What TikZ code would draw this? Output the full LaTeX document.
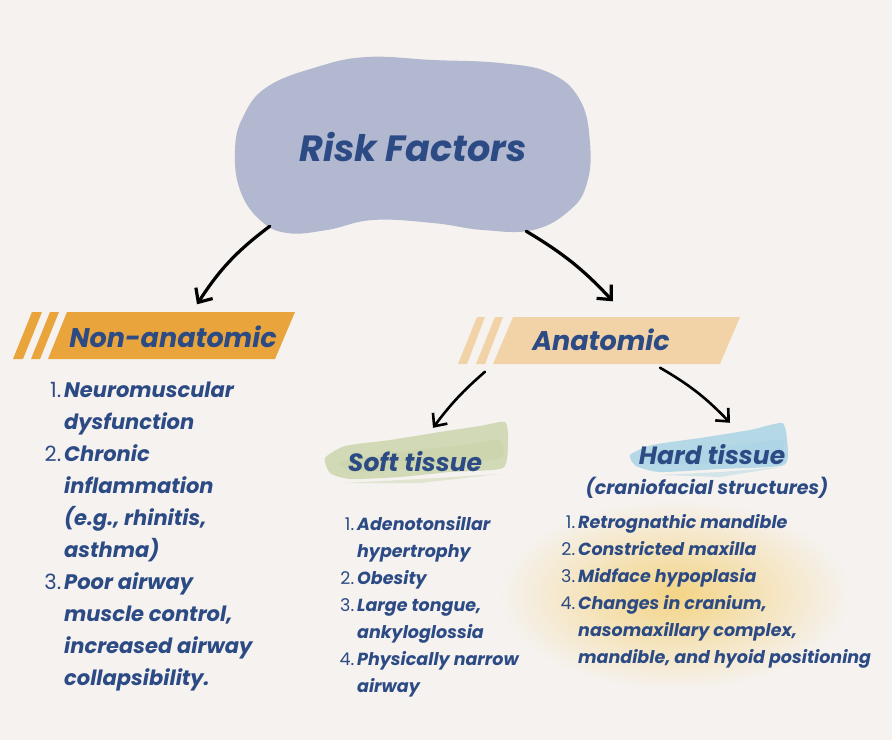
\documentclass[tikz,border=0pt]{standalone}
\usepackage{fontspec}
\setmainfont{Poppins}
\usetikzlibrary{arrows.meta,positioning,shapes}
\usepackage{xcolor}

\definecolor{paper}{HTML}{F5F2EF}
\definecolor{navy}{HTML}{2C4A84}
\definecolor{blobblue}{HTML}{B1B8D0}
\definecolor{darkorange}{HTML}{E9A53C}
\definecolor{lightorange}{HTML}{F2D3A8}
\definecolor{softgreen}{HTML}{C3CFA0}
\definecolor{hardblue}{HTML}{A4D2E4}
\definecolor{glow}{HTML}{F4D485}

\newcommand{\itemno}[1]{\llap{{\mdseries\upshape #1}\hspace{3pt}}}

\begin{document}
\begin{tikzpicture}[
    x=1pt, y=-1pt,
    heading/.style={font=\fontsize{27}{30}\selectfont\bfseries\itshape, text=navy, inner sep=0pt, minimum height=47pt},
    tissue/.style={font=\fontsize{25}{27}\selectfont\bfseries\itshape, text=navy, inner sep=0pt, minimum height=40pt},
    listtext/.style={text=navy, inner sep=0pt, align=left},
    arrow/.style={-{Straight Barb[length=11pt,width=20pt]}, line width=3.2pt, line cap=round},
    smallarrow/.style={-{Straight Barb[length=10pt,width=18pt]}, line width=2.6pt, line cap=round}
]

% Background
\fill[paper] (0,0) rectangle (892,740);
\useasboundingbox (0,0) rectangle (892,740);

% Glow behind hard tissue list
\shade[inner color=glow, outer color=paper] (675,595) ellipse [x radius=175, y radius=95];

% Blob with title
\fill[blobblue] plot[smooth cycle, tension=0.7] coordinates {
    (243,117) (267,87) (317,67) (367,57) (433,60) (500,63) (550,73) (580,100)
    (590,143) (587,183) (570,210) (533,230) (483,230) (433,223) (373,220)
    (327,230) (287,233) (260,220) (240,190) (235,150)};
\node[font=\fontsize{36.5}{40}\selectfont\bfseries\itshape, text=navy, minimum width=356pt, minimum height=178pt] (risk) at (413,147) {Risk Factors};

% Banners
\fill[darkorange] (13,359) -- (32,312) -- (42,312) -- (23,359) -- cycle;
\fill[darkorange] (31,359) -- (50,312) -- (59,312) -- (40,359) -- cycle;
\fill[darkorange] (48,359) -- (67,312) -- (295,312) -- (275,359) -- cycle;
\node[heading] (nonanat) at (173,337) {Non-anatomic};

\fill[lightorange] (458,364) -- (477,317) -- (485,317) -- (467,364) -- cycle;
\fill[lightorange] (476,364) -- (495,317) -- (503,317) -- (485,364) -- cycle;
\fill[lightorange] (493,364) -- (513,317) -- (740,317) -- (720,364) -- cycle;
\node[heading] (anat) at (601,340) {Anatomic};

% Brush strokes
\fill[softgreen, opacity=0.7] plot[smooth cycle, tension=0.35] coordinates {
    (325,458) (345,446) (390,440) (440,432) (480,426) (505,422) (508,440)
    (503,468) (450,472) (400,477) (350,479) (330,473)};
\fill[softgreen, opacity=0.35] plot[smooth cycle, tension=0.35] coordinates {
    (340,462) (400,452) (470,444) (500,440) (500,458) (430,466) (360,472)};
\fill[softgreen, opacity=0.4] (345,483) -- (420,479) -- (500,474) -- (420,483) -- cycle;
\fill[hardblue, opacity=0.8] plot[smooth cycle, tension=0.35] coordinates {
    (630,455) (652,445) (700,438) (750,430) (782,423) (787,440) (784,465)
    (720,469) (660,472) (636,466)};
\fill[hardblue, opacity=0.35] plot[smooth cycle, tension=0.35] coordinates {
    (645,458) (700,450) (760,442) (782,440) (780,456) (720,462) (660,465)};
\fill[hardblue, opacity=0.4] (660,475) -- (720,472) -- (782,467) -- (720,477) -- cycle;

\node[tissue] (soft) at (415,462) {Soft tissue};
\node[tissue] (hard) at (712,455) {Hard tissue};
\node[font=\fontsize{19}{21}\selectfont\bfseries\itshape, text=navy, inner sep=0pt] (cranio) at (707,488) {(craniofacial structures)};

% Arrows
\draw[arrow] ([xshift=35pt,yshift=10pt]risk.south west) to[bend right=10] ([xshift=24pt,yshift=9pt]nonanat.north);
\draw[arrow] ([xshift=-65pt,yshift=5pt]risk.south east) to[bend left=8] ([xshift=12pt,yshift=15pt]anat.north);
\draw[smallarrow] ([xshift=-116pt,yshift=-8pt]anat.south) to[bend right=6] ([xshift=18pt,yshift=14pt]soft.north);
\draw[smallarrow] ([xshift=59pt,yshift=-4pt]anat.south) to[bend left=8] ([xshift=18pt,yshift=12pt]hard.north);

% Lists
\node[listtext, anchor=north west] (nonlist) at (64,375) {\fontsize{21}{32}\selectfont\bfseries\itshape
\begin{tabular}{@{}l@{}}
\itemno{1.}Neuromuscular\\
dysfunction\\
\itemno{2.}Chronic\\
inflammation\\
(e.g., rhinitis,\\
asthma)\\
\itemno{3.}Poor airway\\
muscle control,\\
increased airway\\
collapsibility.
\end{tabular}};

\node[listtext, anchor=north west] (softlist) at (357,511) {\fontsize{17.5}{27}\selectfont\bfseries\itshape
\begin{tabular}{@{}l@{}}
\itemno{1.}Adenotonsillar\\
hypertrophy\\
\itemno{2.}Obesity\\
\itemno{3.}Large tongue,\\
ankyloglossia\\
\itemno{4.}Physically narrow\\
airway
\end{tabular}};

\node[listtext, anchor=north west] (hardlist) at (578,509) {\fontsize{17.5}{27}\selectfont\bfseries\itshape
\begin{tabular}{@{}l@{}}
\itemno{1.}Retrognathic mandible\\
\itemno{2.}Constricted maxilla\\
\itemno{3.}Midface hypoplasia\\
\itemno{4.}Changes in cranium,\\
nasomaxillary complex,\\
mandible, and hyoid positioning
\end{tabular}};

\end{tikzpicture}
\end{document}
